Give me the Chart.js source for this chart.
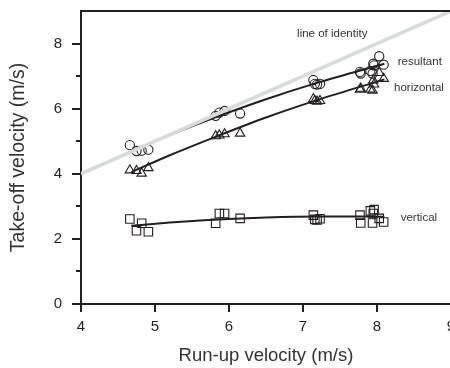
<!DOCTYPE html>
<html>
<head>
<meta charset="utf-8">
<script src="https://cdn.jsdelivr.net/npm/chart.js@4/dist/chart.umd.min.js"></script>
<style>
  html, body { margin: 0; padding: 0; background: #fff; overflow: hidden; }
  #wrap { width: 460px; height: 368px; position: relative; }
</style>
</head>
<body>
<div id="wrap"><canvas id="myChart"></canvas></div>
<script>
// data

var runUp = [4.66, 4.75, 4.82, 4.91, 5.82, 5.87, 5.94, 6.15, 7.14, 7.16, 7.19, 7.23, 7.77, 7.78, 7.91, 7.94, 7.95, 7.96, 8.03, 8.09];
var resultant = [4.88, 4.70, 4.71, 4.74, 5.78, 5.88, 5.93, 5.85, 6.88, 6.76, 6.74, 6.76, 7.13, 7.08, 7.16, 7.08, 7.38, 7.33, 7.61, 7.35];
var horizontal = [4.11, 4.09, 4.01, 4.18, 5.16, 5.18, 5.22, 5.24, 6.30, 6.24, 6.22, 6.24, 6.59, 6.62, 6.59, 6.56, 6.87, 6.75, 7.10, 6.92];
var vertical = [2.61, 2.25, 2.48, 2.22, 2.48, 2.78, 2.78, 2.63, 2.73, 2.60, 2.58, 2.62, 2.73, 2.49, 2.86, 2.49, 2.78, 2.90, 2.63, 2.52];

// fitted curves
var fitX = [4.68, 5.2, 5.8, 6.5, 7.2, 8.1];
var fitResultant = [4.70, 5.19, 5.72, 6.29, 6.80, 7.38];
var fitHorizontal = [4.05, 4.57, 5.12, 5.73, 6.27, 6.90];
var fitVertical = [2.40, 2.50, 2.59, 2.66, 2.69, 2.68];

var identity = [4, 9];

var xTicks = [4, 5, 6, 7, 8, 9];
var yTicks = [0, 2, 4, 6, 8];

var seriesLabels = ['line of identity', 'resultant', 'horizontal', 'vertical'];

var ink = '#231f20';

function pts(xs, ys) {
    return xs.map(function (x, i) { return { x: x, y: ys[i] } })
}

function fitLine(ys) {
    return {
        type: 'line',
        data: pts(fitX, ys),
        borderColor: ink,
        borderWidth: 2,
        pointRadius: 0,
        showLine: true,
        tension: 0.4,
        cubicInterpolationMode: 'monotone',
        fill: false,
    }
}

function marks(ys, style, r) {
    return {
        data: pts(runUp, ys),
        pointStyle: style,
        pointRadius: r,
        pointBorderColor: ink,
        pointBackgroundColor: 'rgba(0,0,0,0)',
        pointBorderWidth: 1.1,
        showLine: false,
    }
}

// frame, minor ticks and text labels
var extras = {
    id: 'extras',
    afterDraw: function (chart) {
        var c = chart.ctx, a = chart.chartArea;
        var xs = chart.scales.x, ys = chart.scales.y;
        c.save();
        c.strokeStyle = ink;
        c.lineWidth = 2;
        c.beginPath();
        c.moveTo(a.left - 1, a.top);
        c.lineTo(a.right + 2, a.top);
        for (var v = 1; v < 9; v += 2) {
            var py = Math.round(ys.getPixelForValue(v));
            c.moveTo(a.left - 5, py);
            c.lineTo(a.left, py);
        }
        c.stroke();

        c.fillStyle = '#333';
        c.font = '11.5px "Liberation Sans", Arial, sans-serif';
        c.textBaseline = 'middle';
        c.textAlign = 'left';
        var spots = [[6.92, 8.31], [8.28, 7.45], [8.23, 6.63], [8.32, 2.64]];
        spots.forEach(function (s, i) {
            c.fillText(seriesLabels[i], xs.getPixelForValue(s[0]), ys.getPixelForValue(s[1]));
        });
        c.restore();
    }
};

var ctx = document.getElementById('myChart').getContext('2d');
var chart = new Chart(ctx, {
    type: 'scatter',
    data: {
        datasets: [
            {
                type: 'line',
                data: pts(identity, identity),
                borderColor: '#d8dbdb',
                borderWidth: 3.5,
                pointRadius: 0,
                showLine: true,
                fill: false,
            },
            fitLine(fitResultant),
            fitLine(fitHorizontal),
            fitLine(fitVertical),
            marks(resultant, 'circle', 4.6),
            marks(horizontal, 'triangle', 5.4),
            marks(vertical, 'rect', 6),
        ]
    },
    options: {
        responsive: true,
        maintainAspectRatio: false,
        animation: false,
        layout: { padding: { top: 11, right: 9, left: 0, bottom: 0 } },
        plugins: { legend: { display: false }, tooltip: { enabled: false } },
        scales: {
            x: {
                type: 'linear',
                min: 4,
                max: 9,
                afterBuildTicks: function (s) { s.ticks = xTicks.map(function (v) { return { value: v } }) },
                afterFit: function (s) { s.height = 64; s.paddingLeft = 0; s.paddingRight = 0 },
                ticks: {
                    color: ink,
                    padding: 6,
                    font: { family: '"Liberation Sans", Arial, sans-serif', size: 15 },
                },
                grid: { drawOnChartArea: false, tickLength: 8, color: ink, lineWidth: 2 },
                border: { color: ink, width: 2 },
                title: {
                    display: true,
                    text: 'Run-up velocity (m/s)',
                    color: '#333',
                    font: { family: '"Liberation Sans", Arial, sans-serif', size: 18.5 },
                    padding: { top: 0, bottom: 1 },
                },
            },
            y: {
                type: 'linear',
                min: 0,
                max: 9,
                afterBuildTicks: function (s) { s.ticks = yTicks.map(function (v) { return { value: v } }) },
                afterFit: function (s) { s.width = 81; s.paddingTop = 0; s.paddingBottom = 0 },
                ticks: {
                    color: ink,
                    padding: 10,
                    font: { family: '"Liberation Sans", Arial, sans-serif', size: 15 },
                },
                grid: { drawOnChartArea: false, tickLength: 9, color: ink, lineWidth: 2 },
                border: { color: ink, width: 2 },
                title: {
                    display: true,
                    text: 'Take-off velocity (m/s)',
                    color: '#333',
                    font: { family: '"Liberation Sans", Arial, sans-serif', size: 19.5 },
                    padding: { top: 7, bottom: 0 },
                },
            },
        },
    },
    plugins: [extras],
});
</script>
</body>
</html>
